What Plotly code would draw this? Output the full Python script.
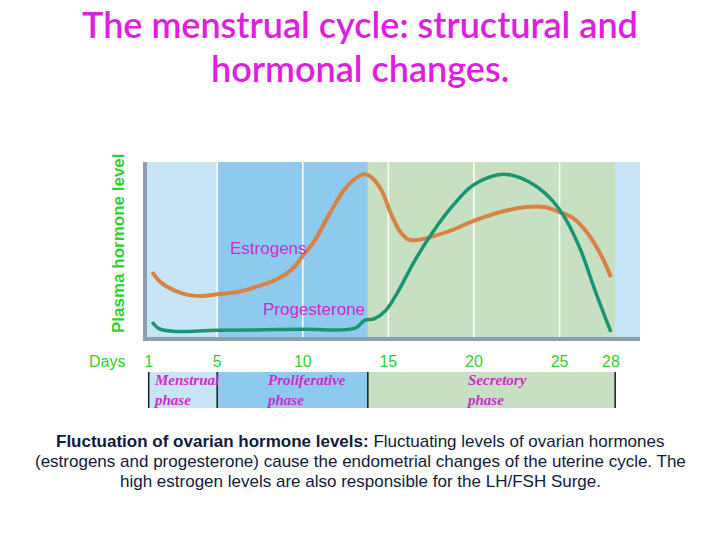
import plotly.graph_objects as go

# hormone curves (day of cycle, relative level 0-100)
estrogen_days = [1.2, 1.8, 3.0, 4.05, 5.0, 6.2, 7.25, 8.55, 9.4, 9.95, 10.7, 11.57, 12.4,
                 13.07, 13.6, 14.0, 14.6, 15.15, 15.7, 16.2, 16.77, 17.6, 18.7, 19.8,
                 20.9, 21.96, 23.05, 24.13, 25.0, 25.83, 26.66, 27.48, 28.0]
estrogen_level = [37.1, 30.5, 24.8, 23.4, 24.4, 25.7, 28.6, 33.3, 39.0, 45.7, 55.2, 70.5, 83.8,
                  90.5, 93.0, 91.4, 83.8, 70.5, 60.0, 55.6, 55.6, 57.5, 61.0, 65.7,
                  69.5, 72.4, 74.3, 74.3, 71.4, 67.6, 59.0, 45.7, 34.3]

progesterone_days = [1.2, 1.6, 2.5, 5.0, 10.0, 13.07, 13.6, 14.2, 14.85, 15.5, 16.55, 17.6,
                     18.7, 19.8, 20.9, 21.7, 22.6, 23.7, 24.57, 25.4, 26.24, 27.07, 28.0]
progesterone_level = [8.6, 4.8, 3.2, 3.8, 4.4, 5.1, 9.5, 10.5, 15.2, 24.8, 43.8, 60.0,
                      74.3, 85.7, 91.4, 93.0, 91.4, 85.7, 78.1, 66.7, 49.5, 26.7, 2.9]

day_ticks = [1, 5, 10, 15, 20, 25, 28]
grid_days = [5, 10, 15, 20, 25]

# phases of the uterine cycle
phase_names = ["Menstrual<br>phase", "Proliferative<br>phase", "Secretory<br>phase"]
phase_start = [1, 5, 13.8]
phase_end = [5, 13.8, 28.25]
phase_colors = ["#c8e5f8", "#8ecaee", "#c6e0c1"]

title_lines = ["The menstrual cycle: structural and", "hormonal changes."]
caption_lines = [
    "<b>Fluctuation of ovarian hormone levels:</b> Fluctuating levels of ovarian hormones",
    "(estrogens and progesterone) cause the endometrial changes of the uterine cycle. The",
    "high estrogen levels are also responsible for the LH/FSH Surge.",
]

MAGENTA = "#cc2ccc"
GREEN = "#2fd12f"

# page is offset 8px by the body margin, so the plot sits at page x 147..640, y 162..337
PL, PW, PT, PH = 139, 493, 154, 175


def px(x):
    return (x - 147) / PW


def py(y):
    return (337 - y) / PH


fig = go.Figure()

fig.add_trace(go.Scatter(x=estrogen_days, y=estrogen_level, mode="lines",
                         line=dict(color="#d98245", width=4, shape="spline", smoothing=1.0),
                         hoverinfo="skip"))
fig.add_trace(go.Scatter(x=progesterone_days, y=progesterone_level, mode="lines",
                         line=dict(color="#1b9473", width=3.5, shape="spline", smoothing=1.0),
                         hoverinfo="skip"))

shapes = []
bands = [(0.9, 5, "#c8e5f8"), (5, 13.8, "#8ecaee"), (13.8, 28.25, "#c6e0c1"), (28.25, 29.7, "#c8e5f8")]
for x0, x1, col in bands:
    shapes.append(dict(type="rect", xref="x", yref="y", x0=x0, x1=x1, y0=0, y1=100,
                       fillcolor=col, line=dict(width=0), layer="below"))
for d in grid_days:
    shapes.append(dict(type="line", xref="x", yref="y", x0=d, x1=d, y0=0, y1=100,
                       line=dict(color="white", width=1.5), layer="below"))

# phase bar under the axis
for i in range(len(phase_names)):
    shapes.append(dict(type="rect", xref="x", yref="paper", x0=phase_start[i], x1=phase_end[i],
                       y0=py(408), y1=py(372), fillcolor=phase_colors[i], line=dict(width=0)))
for d in phase_start + [phase_end[-1]]:
    shapes.append(dict(type="line", xref="x", yref="paper", x0=d, x1=d, y0=py(408), y1=py(372),
                       line=dict(color="#1a1a1a", width=1.5)))

annotations = [
    dict(text="<b>Plasma hormone level</b>", xref="paper", yref="paper", x=px(118), y=py(243),
         textangle=-90, showarrow=False, xanchor="center", yanchor="middle",
         font=dict(family="Liberation Sans", size=17, color=GREEN)),
    dict(text="Days", xref="paper", yref="paper", x=px(107), y=py(361), showarrow=False,
         xanchor="center", yanchor="middle",
         font=dict(family="Liberation Sans", size=16, color=GREEN)),
    dict(text="Estrogens", xref="x", yref="y", x=7.97, y=50.3, showarrow=False,
         font=dict(family="Liberation Sans", size=17, color=MAGENTA)),
    dict(text="Progesterone", xref="x", yref="y", x=10.65, y=16, showarrow=False,
         font=dict(family="Liberation Sans", size=17, color=MAGENTA)),
]
for line, yl in zip(title_lines, [24, 68]):
    annotations.append(dict(text=line, xref="paper", yref="paper", x=px(360), y=py(yl),
                            xanchor="center", yanchor="middle", showarrow=False,
                            font=dict(family="Lato", size=36, weight=600, color="#e01ee0")))
for line, yl in zip(caption_lines, [441, 461, 481]):
    annotations.append(dict(text=line, xref="paper", yref="paper", x=px(360), y=py(yl),
                            xanchor="center", yanchor="middle", showarrow=False,
                            font=dict(family="Liberation Sans", size=17, color="#101b3c")))
phase_label_x = [1.0, 7.6, 19.3]
for name, xl in zip(phase_names, phase_label_x):
    annotations.append(dict(text="<b><i>" + name + "</i></b>", xref="x", yref="paper", x=xl, y=py(390),
                            xanchor="left", yanchor="middle", align="left", showarrow=False,
                            xshift=2,
                            font=dict(family="Liberation Serif", size=15, color=MAGENTA)))

fig.update_layout(
    width=720, height=540,
    margin=dict(l=PL, r=720 - PL - PW, t=PT, b=540 - PT - PH),
    paper_bgcolor="white",
    plot_bgcolor="#c8e5f8",
    showlegend=False,
    xaxis=dict(range=[0.9, 29.7], tickvals=day_ticks, showgrid=False, zeroline=False,
               showline=True, linecolor="#8e9eac", linewidth=4, ticks="",
               ticklabelstandoff=7,
               tickfont=dict(family="Liberation Sans", size=16, color=GREEN)),
    yaxis=dict(range=[0, 100], showgrid=False, zeroline=False, showticklabels=False,
               showline=True, linecolor="#8e9eac", linewidth=4, ticks=""),
    shapes=shapes,
    annotations=annotations,
)

fig.write_html("out.html")
